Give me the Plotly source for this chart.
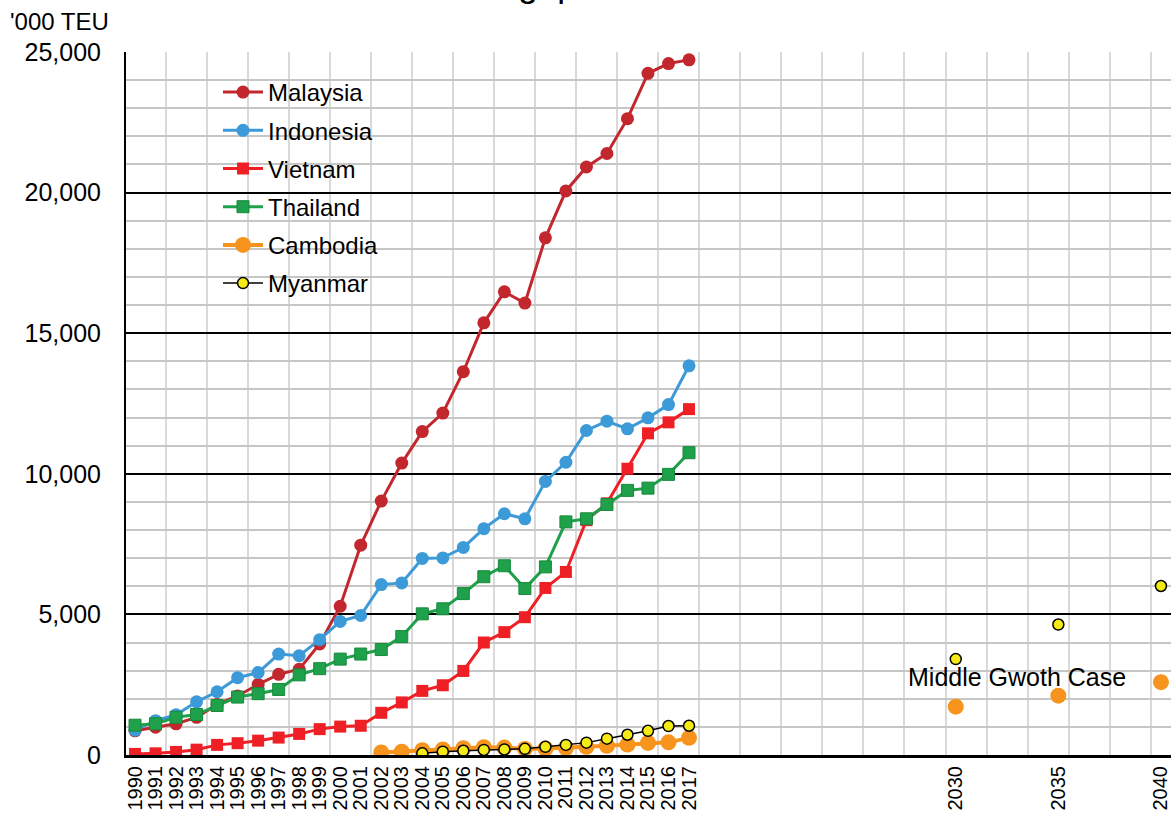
import plotly.graph_objects as go

# ---------------- data ----------------
years = list(range(1990, 2018))
malaysia = [860, 990, 1110, 1340, 1800, 2100, 2510, 2870, 3050, 3950, 5290, 7460, 9030, 10380,
            11500, 12160, 13630, 15370, 16470, 16070, 18390, 20060, 20910, 21390, 22630, 24240, 24590, 24720]
indonesia = [880, 1220, 1430, 1890, 2250, 2750, 2930, 3590, 3530, 4100, 4750, 4960, 6060, 6120,
             6990, 7010, 7380, 8050, 8580, 8400, 9730, 10410, 11540, 11870, 11600, 11990, 12460, 13840]
vietnam = [40, 60, 110, 190, 360, 420, 510, 620, 750, 920, 1010, 1040, 1500, 1870,
           2280, 2480, 2990, 4000, 4370, 4900, 5940, 6510, 8350, 8950, 10180, 11440, 11830, 12300]
thailand = [1060, 1110, 1340, 1440, 1760, 2060, 2180, 2330, 2850, 3070, 3410, 3590, 3750, 4210,
            5020, 5200, 5740, 6340, 6730, 5920, 6690, 8290, 8400, 8910, 9410, 9490, 9980, 10750]
cambodia_years = list(range(2002, 2018))
cambodia = [90, 120, 170, 200, 240, 275, 265, 215, 230, 250, 290, 330, 370, 430, 450, 610]
myanmar_years = list(range(2004, 2018))
myanmar = [60, 120, 150, 180, 200, 220, 290, 360, 440, 580, 720, 860, 1030, 1040]

forecast_years = [2030, 2035, 2040]
cambodia_fc = [1720, 2110, 2590]
myanmar_fc = [3410, 4640, 6010]

tick_years = years + forecast_years
tick_labels = [str(y) for y in tick_years]
grid_years = [1991.5 + 2 * k for k in range(25)]

title_text = "Container Throughput in ASEAN Countries"
unit_text = "'000 TEU"
case_text = "Middle Gwoth Case"

# ---------------- styles ----------------
FONT = "Liberation Sans, Arial, sans-serif"
W, H = 1171, 816
ML, MT, MB, MR = 126, 52, 61, 0
PW, PH = W - ML - MR, H - MT - MB


def px2paper_x(px):
    return (px - ML) / PW


def px2paper_y(py):
    return 1 - (py - MT) / PH


fig = go.Figure()

series = [
    ("Malaysia", years, malaysia, "#C1272D", "circle", 13, 3, "#C1272D", 0),
    ("Indonesia", years, indonesia, "#3D9AD9", "circle", 13, 3, "#3D9AD9", 0),
    ("Vietnam", years, vietnam, "#EE2026", "square", 12, 3, "#EE2026", 0),
    ("Thailand", years, thailand, "#1FA04A", "square", 12, 3, "#178A3C", 1),
]
for name, xs, ys, col, sym, size, lw, lcol, lwid in series:
    fig.add_trace(go.Scatter(
        x=xs, y=ys, name=name, legendgroup=name, mode="lines+markers",
        line=dict(color=col, width=lw),
        marker=dict(symbol=sym, size=size, color=col, line=dict(color=lcol, width=lwid)),
    ))

fig.add_trace(go.Scatter(
    x=cambodia_years, y=cambodia, name="Cambodia", legendgroup="Cambodia", mode="lines+markers",
    line=dict(color="#F7941D", width=4),
    marker=dict(symbol="circle", size=16, color="#F7941D"),
))
fig.add_trace(go.Scatter(
    x=forecast_years, y=cambodia_fc, name="Cambodia", legendgroup="Cambodia", mode="markers",
    showlegend=False, marker=dict(symbol="circle", size=16, color="#F7941D"),
))
fig.add_trace(go.Scatter(
    x=myanmar_years, y=myanmar, name="Myanmar", legendgroup="Myanmar", mode="lines+markers",
    line=dict(color="#000000", width=1.5),
    marker=dict(symbol="circle", size=11, color="#F5EB14", line=dict(color="#000000", width=1.5)),
))
fig.add_trace(go.Scatter(
    x=forecast_years, y=myanmar_fc, name="Myanmar", legendgroup="Myanmar", mode="markers",
    showlegend=False,
    marker=dict(symbol="circle", size=11, color="#F5EB14", line=dict(color="#000000", width=1.5)),
))

# white box behind the legend (covers gridlines)
fig.add_shape(type="rect", xref="paper", yref="paper",
              x0=px2paper_x(168), x1=px2paper_x(427), y0=px2paper_y(303), y1=px2paper_y(73),
              fillcolor="white", line=dict(width=0), layer="between")

fig.add_annotation(text=title_text, xref="paper", yref="paper",
                   x=px2paper_x(597), y=px2paper_y(-16), xanchor="center", yanchor="middle",
                   showarrow=False, font=dict(family=FONT, size=35, color="black"))
fig.add_annotation(text=unit_text, xref="paper", yref="paper",
                   x=px2paper_x(8), y=px2paper_y(22), xanchor="left", yanchor="middle",
                   showarrow=False, font=dict(family=FONT, size=24, color="black"))
fig.add_annotation(text=case_text, xref="x", yref="y",
                   x=2033.0, y=2770, xanchor="center", yanchor="middle",
                   showarrow=False, font=dict(family=FONT, size=25, color="black"))

fig.update_layout(
    width=W, height=H,
    margin=dict(l=ML, r=MR, t=MT, b=MB, pad=0),
    paper_bgcolor="white", plot_bgcolor="white",
    font=dict(family=FONT, color="black"),
    showlegend=True,
    legend=dict(x=px2paper_x(218), y=px2paper_y(70), xanchor="left", yanchor="top",
                bgcolor="rgba(255,255,255,0)", borderwidth=0,
                font=dict(family=FONT, size=24, color="black"),
                tracegroupgap=4, itemwidth=40),
    xaxis=dict(
        range=[1989.56, 2040.49], tickmode="array", tickvals=tick_years, ticktext=tick_labels,
        tickangle=-90, tickfont=dict(family=FONT, size=20, color="black"),
        ticklabeloverflow="allow",
        showgrid=False, zeroline=False,
        showline=True, linecolor="black", linewidth=3,
        ticks="",
        minor=dict(tickmode="array", tickvals=grid_years, showgrid=True,
                   gridcolor="#D9D9D9", gridwidth=2, ticks=""),
    ),
    yaxis=dict(
        range=[0, 25000], dtick=5000, tickformat=",d",
        tickfont=dict(family=FONT, size=25, color="black"),
        showgrid=True, gridcolor="black", gridwidth=2, zeroline=False,
        showline=True, linecolor="black", linewidth=2, ticks="", ticklabelstandoff=18,
        minor=dict(dtick=1000, showgrid=True, gridcolor="#C6C6C6", gridwidth=2, ticks=""),
    ),
)

fig.write_html("out.html", config={"displayModeBar": False},
               post_script="document.body.style.margin='0';")
